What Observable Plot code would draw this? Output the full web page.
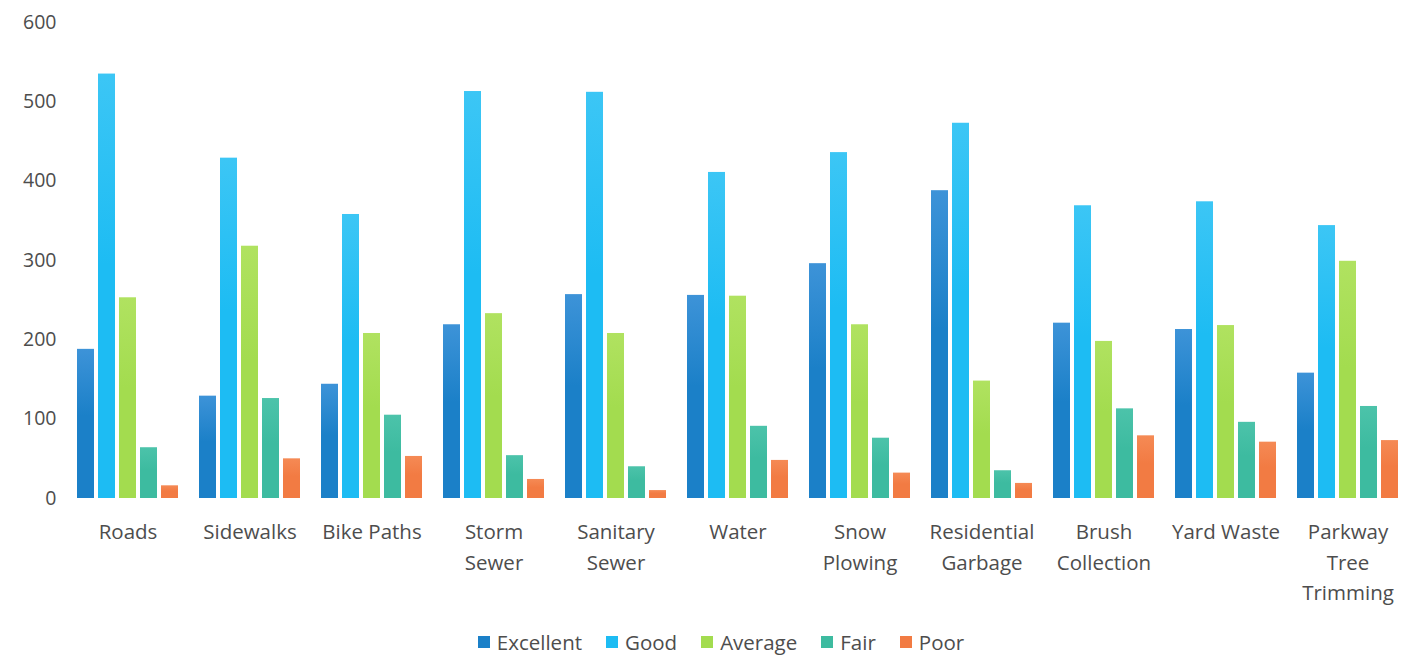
<!DOCTYPE html>
<html>
<head>
<meta charset="utf-8">
<script src="https://cdn.jsdelivr.net/npm/d3@7"></script>
<script src="https://cdn.jsdelivr.net/npm/@observablehq/plot@0.6"></script>
<style>
  body { margin: 0; background: #ffffff; font-family: "Open Sans", sans-serif; }
  #legend { display: flex; justify-content: center; gap: 24px; font-size: 20.5px; color: #4d4d4d; line-height: 28px; margin-left: 32px; margin-top: 2px; }
  #legend span.item { display: inline-flex; align-items: center; gap: 7px; }
  #legend span.sw { width: 12px; height: 12px; display: inline-block; }
</style>
</head>
<body>
<div id="chart"></div>
<div id="legend"></div>
<script>
const categories = ["Roads", "Sidewalks", "Bike Paths", "Storm Sewer", "Sanitary Sewer", "Water", "Snow Plowing", "Residential Garbage", "Brush Collection", "Yard Waste", "Parkway Tree Trimming"];
const tickLabels = ["Roads", "Sidewalks", "Bike Paths", "Storm\nSewer", "Sanitary\nSewer", "Water", "Snow\nPlowing", "Residential\nGarbage", "Brush\nCollection", "Yard Waste", "Parkway\nTree\nTrimming"];
const seriesNames = ["Excellent", "Good", "Average", "Fair", "Poor"];
const excellent = [188, 129, 144, 219, 257, 256, 296, 388, 221, 213, 158];
const good      = [535, 429, 358, 513, 512, 411, 436, 473, 369, 374, 344];
const average   = [253, 318, 208, 233, 208, 255, 219, 148, 198, 218, 299];
const fair      = [64, 126, 105, 54, 40, 91, 76, 35, 113, 96, 116];
const poor      = [16, 50, 53, 24, 10, 48, 32, 19, 79, 71, 73];
const yTicks = [0, 100, 200, 300, 400, 500, 600];
const colors = ["#1b80c8", "#1dbcf3", "#a3dc4f", "#3dbba0", "#f27b43"];
const colorsTop = ["#3d93d8", "#3cc6f5", "#b0e260", "#4cc3aa", "#f58a55"];

const seriesValues = [excellent, good, average, fair, poor];
const data = [];
categories.forEach((c, i) => {
  seriesNames.forEach((s, j) => data.push({category: c, series: s, value: seriesValues[j][i]}));
});
const labelOf = new Map(categories.map((c, i) => [c, tickLabels[i]]));

const chart = Plot.plot({
  width: 1410,
  height: 626,
  marginLeft: 65,
  marginRight: 0,
  marginTop: 22,
  marginBottom: 128,
  style: {fontFamily: "'Open Sans', sans-serif", fontSize: "19px", color: "#4d4d4d", background: "white"},
  fx: {domain: categories, paddingInner: 0.157, paddingOuter: 0.082, label: null},
  x: {domain: seriesNames, paddingInner: 0.18, paddingOuter: 0, axis: null},
  y: {domain: [0, 600], label: null},
  color: {domain: seriesNames, range: seriesNames.map((s, i) => `url(#grad${i})`)},
  marks: [
    Plot.barY(data, {fx: "category", x: "series", y: "value", fill: "series"}),
    Plot.axisY({ticks: yTicks, tickSize: 0, tickPadding: 20, fontSize: 19.5, label: null, fill: "#4d4d4d"}),
    Plot.axisFx({anchor: "bottom", tickSize: 0, tickPadding: 19, fontSize: 20.5, lineHeight: 1.49, label: null, fill: "#4d4d4d", tickFormat: d => labelOf.get(d)})
  ]
});

const ns = "http://www.w3.org/2000/svg";
const defs = document.createElementNS(ns, "defs");
colors.forEach((c, i) => {
  const g = document.createElementNS(ns, "linearGradient");
  g.setAttribute("id", `grad${i}`);
  g.setAttribute("x1", "0"); g.setAttribute("y1", "0");
  g.setAttribute("x2", "0"); g.setAttribute("y2", "1");
  const s1 = document.createElementNS(ns, "stop");
  s1.setAttribute("offset", "0"); s1.setAttribute("stop-color", colorsTop[i]);
  const s2 = document.createElementNS(ns, "stop");
  s2.setAttribute("offset", "0.45"); s2.setAttribute("stop-color", c);
  const s3 = document.createElementNS(ns, "stop");
  s3.setAttribute("offset", "1"); s3.setAttribute("stop-color", c);
  g.appendChild(s1); g.appendChild(s2); g.appendChild(s3);
  defs.appendChild(g);
});
chart.insertBefore(defs, chart.firstChild);
document.getElementById("chart").appendChild(chart);

const legend = document.getElementById("legend");
seriesNames.forEach((s, i) => {
  const item = document.createElement("span");
  item.className = "item";
  const sw = document.createElement("span");
  sw.className = "sw";
  sw.style.background = colors[i];
  item.appendChild(sw);
  item.appendChild(document.createTextNode(s));
  legend.appendChild(item);
});
</script>
</body>
</html>
